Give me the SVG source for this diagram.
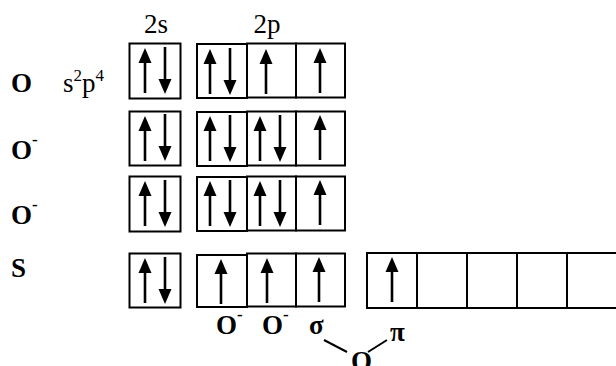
<svg xmlns="http://www.w3.org/2000/svg" width="616" height="366" viewBox="0 0 616 366" font-family="'Liberation Serif', 'Times New Roman', serif">
  <style>
    .box { fill: #fff; stroke: #000; stroke-width: 2; }
    text { font-family: "Liberation Serif", "Times New Roman", serif; fill: #000; }
    .lbl { font-weight: bold; font-size: 27px; }
    .reg { font-size: 27px; }
    .sup { font-size: 17px; }
    .link { stroke: #000; stroke-width: 2; fill: none; }
  </style>
  <defs>
    <!-- up arrow: tip at origin -->
    <g id="up">
      <line x1="0" y1="12" x2="0" y2="45" stroke="#000" stroke-width="2.6"/>
      <polygon points="0,0 -6.5,15 6.5,15" fill="#000"/>
    </g>
    <!-- down arrow: tail at origin, tip 47 below -->
    <g id="dn">
      <line x1="0" y1="0" x2="0" y2="35" stroke="#000" stroke-width="2.6"/>
      <polygon points="0,47 -6.5,32 6.5,32" fill="#000"/>
    </g>
  </defs>

  <!-- subshell headings -->
  <g id="heading">
    <text class="reg" x="156" y="33" text-anchor="middle">2s</text>
    <text class="reg" x="267" y="33" text-anchor="middle">2p</text>
  </g>

  <!-- oxygen ground state -->
  <g id="row-O">
    <text class="lbl" x="11" y="92">O</text>
    <text class="reg" x="63" y="92">s<tspan class="sup" dy="-11">2</tspan><tspan dy="11">p</tspan><tspan class="sup" dy="-11">4</tspan></text>
    <rect class="box" x="129.5" y="43.5" width="51" height="55"/>
    <use href="#up" x="145" y="48"/>
    <use href="#dn" x="165" y="47"/>
    <rect class="box" x="197" y="44" width="50" height="54"/>
    <rect class="box" x="247" y="43.5" width="49" height="54"/>
    <rect class="box" x="296" y="43.5" width="49" height="54"/>
    <use href="#up" x="210" y="49"/>
    <use href="#dn" x="230" y="48"/>
    <use href="#up" x="266" y="49"/>
    <use href="#up" x="320" y="48"/>
  </g>

  <!-- first oxide ion -->
  <g id="row-O-minus-1">
    <text class="lbl" x="11" y="159">O<tspan class="sup" dy="-14">-</tspan></text>
    <rect class="box" x="129.5" y="111.5" width="51" height="54"/>
    <use href="#up" x="145" y="116"/>
    <use href="#dn" x="165" y="114"/>
    <rect class="box" x="197" y="112" width="50" height="54"/>
    <rect class="box" x="247" y="111.5" width="49" height="54"/>
    <rect class="box" x="296" y="111.5" width="49" height="54"/>
    <use href="#up" x="210" y="116"/>
    <use href="#dn" x="230" y="115"/>
    <use href="#up" x="260" y="116"/>
    <use href="#dn" x="280" y="115"/>
    <use href="#up" x="320" y="115"/>
  </g>

  <!-- second oxide ion -->
  <g id="row-O-minus-2">
    <text class="lbl" x="11" y="224">O<tspan class="sup" dy="-14">-</tspan></text>
    <rect class="box" x="129.5" y="176.5" width="51" height="55"/>
    <use href="#up" x="145" y="181"/>
    <use href="#dn" x="165" y="180"/>
    <rect class="box" x="197" y="177" width="50" height="54"/>
    <rect class="box" x="247" y="176.5" width="49" height="54"/>
    <rect class="box" x="296" y="176.5" width="49" height="54"/>
    <use href="#up" x="210" y="181"/>
    <use href="#dn" x="230" y="180"/>
    <use href="#up" x="260" y="181"/>
    <use href="#dn" x="280" y="180"/>
    <use href="#up" x="320" y="180"/>
  </g>

  <!-- sulfur, excited state -->
  <g id="row-S">
    <text class="lbl" x="11" y="277">S</text>
    <rect class="box" x="129.5" y="253.5" width="51" height="54"/>
    <use href="#up" x="145" y="258"/>
    <use href="#dn" x="165" y="257"/>
    <rect class="box" x="197" y="255" width="50" height="52"/>
    <rect class="box" x="247" y="253.5" width="49" height="53"/>
    <rect class="box" x="296" y="253.5" width="49" height="53"/>
    <use href="#up" x="221" y="259"/>
    <use href="#up" x="267" y="258"/>
    <use href="#up" x="319" y="257"/>
  </g>

  <!-- empty orbitals beside the sulfur row -->
  <g id="row-S-d">
    <rect class="box" x="367" y="253" width="50" height="55"/>
    <rect class="box" x="417" y="253" width="50" height="55"/>
    <rect class="box" x="467" y="253" width="50" height="55"/>
    <rect class="box" x="517" y="253" width="50" height="55"/>
    <rect class="box" x="567" y="253" width="50" height="55"/>
    <use href="#up" x="392" y="257"/>
  </g>

  <!-- bond labels -->
  <g id="bond-labels">
    <text class="lbl" x="216" y="334">O<tspan class="sup" dy="-14">-</tspan></text>
    <text class="lbl" x="262" y="334">O<tspan class="sup" dy="-14">-</tspan></text>
    <text class="lbl" x="309" y="334">σ</text>
    <text class="lbl" x="390" y="341">π</text>
    <text class="lbl" x="351" y="370">O</text>
  </g>

  <!-- connectors to the bridging oxygen -->
  <g id="connectors">
    <line class="link" x1="324" y1="340" x2="347" y2="352"/>
    <line class="link" x1="368" y1="352" x2="387" y2="340"/>
  </g>
</svg>
